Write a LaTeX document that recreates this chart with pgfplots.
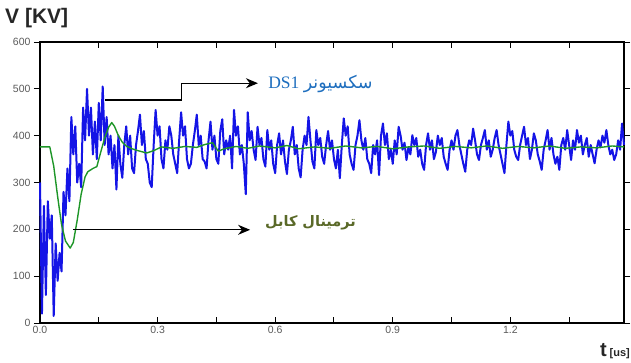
\documentclass[border=0pt]{standalone}
\usepackage{pgfplots}
\pgfplotsset{compat=1.18}
\usepackage{fontspec}
\setmainfont{Liberation Sans}
\newfontfamily\arabicfont[Script=Arabic]{DejaVu Sans}
\newfontfamily\seriffont{Liberation Serif}
\TeXXeTstate=1
\definecolor{sigblue}{RGB}{20,20,230}
\definecolor{siggreen}{RGB}{30,150,40}
\definecolor{lblblue}{RGB}{30,110,190}
\definecolor{lblolive}{RGB}{90,105,40}
\definecolor{tickgray}{RGB}{90,90,90}
\usetikzlibrary{arrows.meta}
\begin{document}
\begin{tikzpicture}
\useasboundingbox (-40pt,-39pt) rectangle (591pt,323pt);
\begin{axis}[
  at={(0pt,0pt)}, anchor=south west,
  scale only axis, width=584pt, height=281pt,
  xmin=0, xmax=1.49, ymin=0, ymax=600,
  xtick={0,0.3,0.6,0.9,1.2}, minor xtick={0.15,0.45,0.75,1.05,1.35},
  ytick={0,100,200,300,400,500,600},
  xticklabel style={/pgf/number format/fixed,/pgf/number format/fixed zerofill,/pgf/number format/precision=1},
  /pgf/number format/assume math mode=true,
  tick label style={font=\fontsize{10.5}{12}\selectfont, text=tickgray},
  axis line style={line width=1.3pt},
  every tick/.style={black, line width=1pt},
  xtick align=inside, ytick align=outside,
  major tick length=6pt, minor tick length=6pt,
  clip=false,
]
\addplot[sigblue, line width=2pt, line join=round] coordinates {
(0,300)(0.005,20)(0.01,250)(0.015,60)(0.02,260)(0.025,180)(0.03,230)(0.035,15)(0.04,170)(0.045,90)
(0.05,150)(0.055,110)(0.06,280)(0.065,230)(0.07,330)(0.075,260)(0.08,440)(0.085,360)(0.09,420)(0.095,300)
(0.1,340)(0.105,290)(0.11,460)(0.115,390)(0.12,500)(0.125,400)(0.13,460)(0.135,360)(0.14,430)(0.145,350)
(0.15,470)(0.155,390)(0.16,505)(0.165,380)(0.17,440)(0.175,360)(0.18,400)(0.185,330)(0.19,380)(0.195,285)
(0.2,400)(0.205,340)(0.21,310)(0.215,380)(0.22,420)(0.225,360)(0.23,400)(0.235,330)(0.24,320)(0.245,380)
(0.25,410)(0.255,445)(0.26,380)(0.265,410)(0.27,350)(0.275,340)(0.28,300)(0.285,290)(0.29,380)(0.295,455)
(0.3,400)(0.305,420)(0.31,350)(0.315,330)(0.32,390)(0.325,370)(0.33,420)(0.335,400)(0.34,360)(0.345,340)
(0.35,320)(0.355,390)(0.36,450)(0.365,400)(0.37,420)(0.375,350)(0.38,330)(0.385,340)(0.39,380)(0.395,410)
(0.4,445)(0.405,380)(0.41,400)(0.415,350)(0.42,345)(0.425,330)(0.43,390)(0.435,430)(0.44,370)(0.445,400)
(0.45,350)(0.455,340)(0.46,410)(0.465,435)(0.47,360)(0.475,390)(0.48,370)(0.485,400)(0.49,330)(0.495,455)
(0.5,400)(0.505,420)(0.51,360)(0.515,380)(0.52,340)(0.525,275)(0.53,450)(0.535,390)(0.54,410)(0.545,370)
(0.55,348)(0.555,419)(0.56,380)(0.565,395)(0.57,350)(0.575,334)(0.58,412)(0.585,370)(0.59,390)(0.595,340)
(0.6,320)(0.605,380)(0.61,405)(0.615,360)(0.62,390)(0.625,345)(0.63,318)(0.635,370)(0.64,390)(0.645,419)
(0.65,360)(0.655,380)(0.66,330)(0.665,311)(0.67,370)(0.675,400)(0.68,380)(0.685,440)(0.69,390)(0.695,345)
(0.7,330)(0.705,412)(0.71,380)(0.715,395)(0.72,355)(0.725,340)(0.73,380)(0.735,410)(0.74,370)(0.745,390)
(0.75,350)(0.755,330)(0.76,370)(0.765,309)(0.77,380)(0.775,437)(0.78,400)(0.785,420)(0.79,360)(0.795,340)
(0.8,327)(0.805,380)(0.81,400)(0.815,433)(0.82,390)(0.825,370)(0.83,395)(0.835,350)(0.84,340)(0.845,320)
(0.85,380)(0.855,360)(0.86,390)(0.865,316)(0.87,400)(0.875,426)(0.88,380)(0.885,405)(0.89,350)(0.895,370)
(0.9,340)(0.905,390)(0.91,360)(0.915,419)(0.92,400)(0.925,370)(0.93,385)(0.935,348)(0.94,375)(0.945,360)
(0.95,401)(0.955,380)(0.96,395)(0.965,355)(0.97,370)(0.975,340)(0.98,327)(0.985,380)(0.99,405)(0.995,370)
(1.0,390)(1.005,350)(1.01,365)(1.015,400)(1.02,380)(1.025,395)(1.03,355)(1.035,340)(1.04,327)(1.045,370)
(1.05,390)(1.055,370)(1.06,400)(1.065,412)(1.07,380)(1.075,360)(1.08,340)(1.085,323)(1.09,370)(1.095,390)
(1.1,380)(1.105,415)(1.11,390)(1.115,360)(1.12,348)(1.125,380)(1.13,395)(1.135,412)(1.14,370)(1.145,390)
(1.15,355)(1.155,370)(1.16,395)(1.165,412)(1.17,380)(1.175,360)(1.18,340)(1.185,320)(1.19,380)(1.195,430)
(1.2,400)(1.205,410)(1.21,370)(1.215,355)(1.22,348)(1.225,380)(1.23,400)(1.235,419)(1.24,380)(1.245,395)
(1.25,350)(1.255,370)(1.26,405)(1.265,390)(1.27,360)(1.275,345)(1.28,327)(1.285,370)(1.29,390)(1.295,412)
(1.3,370)(1.305,395)(1.31,360)(1.315,340)(1.32,355)(1.325,327)(1.33,380)(1.335,395)(1.34,370)(1.345,412)
(1.35,380)(1.355,348)(1.36,390)(1.365,370)(1.37,412)(1.375,385)(1.38,400)(1.385,360)(1.39,380)(1.395,395)
(1.4,355)(1.405,380)(1.41,360)(1.415,341)(1.42,370)(1.425,390)(1.43,375)(1.435,400)(1.44,385)(1.445,412)
(1.45,380)(1.455,360)(1.46,370)(1.465,348)(1.47,360)(1.475,390)(1.48,370)(1.485,426)(1.49,380)
};
\addplot[siggreen, line width=1.4pt, line join=round] coordinates {
(0,376)(0.025,376)(0.035,335)(0.045,270)(0.055,210)(0.065,175)(0.077,160)(0.085,172)(0.095,220)(0.105,275)
(0.115,312)(0.122,323)(0.135,330)(0.145,334)(0.155,365)(0.165,395)(0.175,418)(0.183,428)(0.19,420)(0.2,400)
(0.21,386)(0.22,378)(0.235,372)(0.25,368)(0.272,363)(0.29,368)(0.31,376)(0.34,373)(0.37,377)(0.4,375)
(0.42,381)(0.44,385)(0.455,367)(0.47,372)(0.5,377)(0.53,373)(0.56,378)(0.6,374)(0.63,379)(0.66,372)
(0.7,376)(0.74,373)(0.78,378)(0.82,374)(0.86,377)(0.9,372)(0.94,376)(0.98,378)(1.02,373)(1.06,377)
(1.1,374)(1.14,378)(1.18,373)(1.22,377)(1.26,374)(1.3,378)(1.34,373)(1.38,376)(1.42,374)(1.46,378)(1.49,376)
};
% annotations
\draw[black, line width=1.2pt, -{Stealth[length=12pt,width=10pt]}]
  (axis cs:0.166,476) -- (axis cs:0.362,476) -- (axis cs:0.362,512) -- (axis cs:0.556,512);
\draw[black, line width=1.2pt, -{Stealth[length=12pt,width=10pt]}]
  (axis cs:0.084,199) -- (axis cs:0.536,199);
\node[anchor=west, inner sep=0pt, text=lblblue, font=\fontsize{17.5}{20}\selectfont] at (axis cs:0.582,510)
  {\seriffont DS1\ \arabicfont\beginR سکسیونر\endR};
\node[anchor=west, inner sep=0pt, text=lblolive, font=\fontsize{14.5}{18}\selectfont\bfseries] at (axis cs:0.574,215)
  {\arabicfont\beginR ترمینال کابل\endR};
\end{axis}
\node[anchor=west, inner sep=0pt, text=black!85, font=\fontsize{21}{24}\selectfont\bfseries] at (-35pt,305pt) {V [KV]};
\node[anchor=base east, inner sep=0pt, text=black!85] at (590pt,-33pt)
  {{\fontsize{20}{22}\selectfont\bfseries t}\ {\fontsize{11}{12}\selectfont\bfseries [us]}};
\end{tikzpicture}
\end{document}
